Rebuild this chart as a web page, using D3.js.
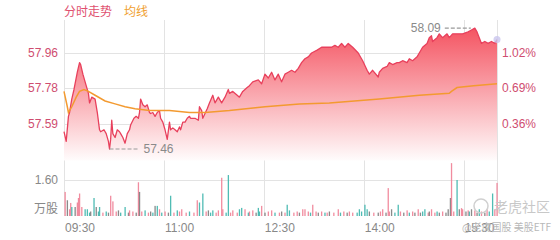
<!DOCTYPE html>
<html>
<head>
<meta charset="utf-8">
<script src="https://cdn.jsdelivr.net/npm/d3@7"></script>
<style>
  html, body { margin: 0; padding: 0; background: #fff; }
  svg { display: block; }
</style>
</head>
<body>
<div id="chart"></div>
<script>
// minutes since 09:30 and price
const priceMinutes = [0, 2, 4, 5, 7, 9, 12, 14, 15, 17, 19, 22, 23, 25, 28, 30, 32, 33, 36, 38, 40, 41, 42, 43, 44, 46, 48, 50, 51, 53, 55, 57, 59, 60, 63, 65, 67, 68, 69, 71, 73, 75, 77, 78, 80, 82, 84, 86, 87, 89, 91, 93, 95, 96, 98, 100, 102, 104, 105, 107, 109, 111, 113, 114, 116, 118, 121, 122, 124, 125, 129, 131, 134, 136, 139, 142, 145, 148, 149, 152, 156, 158, 161, 165, 167, 170, 175, 178, 181, 184, 187, 190, 193, 196, 199, 202, 205, 208, 211, 214, 217, 220, 223, 228, 232, 237, 241, 244, 247, 250, 253, 256, 260, 265, 269, 273, 275, 278, 283, 284, 287, 291, 293, 296, 300, 302, 305, 309, 311, 314, 318, 320, 323, 327, 329, 331, 332, 336, 338, 341, 345, 347, 350, 355, 359, 364, 367, 370, 372, 374, 376, 379, 382, 385, 388, 390];
const prices = [57.55, 57.50, 57.63, 57.65, 57.72, 57.77, 57.86, 57.91, 57.90, 57.85, 57.81, 57.75, 57.70, 57.73, 57.72, 57.65, 57.56, 57.55, 57.56, 57.54, 57.50, 57.46, 57.51, 57.61, 57.54, 57.52, 57.56, 57.55, 57.54, 57.52, 57.49, 57.54, 57.56, 57.585, 57.62, 57.63, 57.62, 57.65, 57.72, 57.69, 57.68, 57.69, 57.65, 57.645, 57.65, 57.63, 57.65, 57.66, 57.62, 57.60, 57.56, 57.51, 57.60, 57.56, 57.57, 57.56, 57.55, 57.575, 57.56, 57.60, 57.60, 57.62, 57.63, 57.62, 57.62, 57.62, 57.61, 57.68, 57.66, 57.62, 57.67, 57.70, 57.74, 57.70, 57.73, 57.70, 57.73, 57.77, 57.75, 57.76, 57.74, 57.73, 57.76, 57.78, 57.79, 57.81, 57.82, 57.80, 57.85, 57.83, 57.86, 57.82, 57.85, 57.81, 57.85, 57.86, 57.87, 57.86, 57.88, 57.91, 57.93, 57.94, 57.96, 57.975, 57.99, 57.99, 57.99, 58.00, 57.99, 58.01, 57.99, 58.01, 57.99, 57.96, 57.92, 57.87, 57.85, 57.87, 57.835, 57.86, 57.88, 57.89, 57.91, 57.90, 57.91, 57.91, 57.92, 57.91, 57.93, 57.92, 57.94, 57.96, 57.99, 58.01, 58.04, 58.05, 58.02, 58.04, 58.06, 58.04, 58.06, 58.04, 58.06, 58.06, 58.06, 58.07, 58.08, 58.09, 58.07, 58.04, 58.01, 58.02, 58.01, 58.02, 58.01, 58.03];

// average price line (均线)
const avgMinutes = [0, 3, 4, 7, 11, 14, 18, 22, 28, 37, 46, 55, 64, 77, 95, 113, 127, 149, 181, 212, 239, 284, 320, 347, 349, 354, 369, 390];
const avgPrices = [57.76, 57.68, 57.65, 57.68, 57.73, 57.76, 57.77, 57.76, 57.74, 57.71, 57.695, 57.68, 57.67, 57.66, 57.66, 57.65, 57.65, 57.66, 57.68, 57.695, 57.70, 57.72, 57.74, 57.75, 57.76, 57.78, 57.79, 57.80];

// volume bars (万股): minute, value, side u = up, d = down, n = flat
const volMinutes = [1, 3, 5, 6, 7, 10, 12, 13, 14, 16, 19, 21, 23, 24, 27, 29, 31, 32, 35, 38, 40, 42, 44, 47, 49, 51, 55, 58, 59, 62, 65, 67, 68, 70, 73, 76, 78, 80, 82, 84, 86, 88, 91, 94, 96, 99, 102, 104, 106, 110, 113, 117, 120, 122, 125, 128, 130, 132, 134, 137, 139, 142, 143, 146, 148, 150, 152, 156, 158, 160, 163, 166, 167, 170, 173, 175, 176, 178, 181, 184, 187, 190, 194, 196, 199, 201, 203, 207, 210, 212, 215, 217, 220, 222, 224, 227, 229, 232, 235, 237, 239, 243, 247, 249, 252, 255, 257, 260, 264, 266, 268, 271, 273, 275, 279, 283, 285, 287, 290, 292, 293, 295, 298, 301, 303, 306, 309, 311, 314, 316, 319, 321, 323, 325, 328, 329, 331, 334, 336, 338, 341, 344, 346, 348, 349, 351, 354, 356, 358, 359, 362, 364, 365, 367, 370, 372, 374, 376, 379, 381, 383, 386, 388, 390];
const volValues = [1.07, 0.70, 0.30, 0.58, 0.40, 0.40, 0.60, 0.80, 1.00, 0.40, 0.30, 0.30, 0.15, 0.20, 0.80, 0.40, 0.20, 0.40, 0.15, 0.20, 0.15, 0.90, 0.65, 0.20, 0.25, 0.15, 0.40, 0.15, 0.25, 0.20, 0.15, 1.50, 1.07, 0.20, 0.25, 0.15, 0.20, 0.15, 0.45, 0.45, 0.30, 0.15, 0.20, 0.15, 0.90, 0.15, 0.25, 0.20, 0.30, 0.15, 0.20, 0.15, 0.70, 0.60, 1.00, 0.20, 0.25, 0.15, 0.25, 0.15, 0.25, 1.70, 0.30, 0.15, 1.82, 0.15, 0.25, 0.15, 0.30, 0.36, 0.30, 0.15, 0.20, 0.25, 0.15, 0.36, 0.20, 0.45, 0.15, 0.20, 0.25, 0.15, 0.15, 0.20, 0.15, 0.50, 0.25, 0.15, 0.20, 0.15, 0.30, 0.30, 0.20, 0.15, 0.50, 0.20, 0.15, 0.20, 0.15, 0.15, 0.20, 0.15, 0.30, 0.15, 0.20, 0.15, 0.20, 0.15, 0.15, 0.30, 0.20, 0.50, 0.30, 0.20, 0.15, 0.15, 0.20, 0.30, 0.15, 1.24, 0.20, 0.30, 0.15, 0.50, 0.20, 0.15, 0.25, 0.15, 0.20, 0.15, 0.30, 0.15, 0.20, 0.30, 0.15, 0.20, 0.30, 0.15, 0.20, 0.15, 0.20, 0.15, 0.30, 0.80, 2.35, 0.20, 1.60, 0.30, 0.35, 0.30, 0.20, 0.25, 0.20, 0.30, 0.25, 0.15, 0.30, 0.20, 0.15, 0.30, 0.20, 1.00, 0.30, 1.47];
const volSides = ["u", "n", "u", "u", "d", "n", "u", "u", "u", "u", "d", "d", "d", "n", "d", "n", "d", "d", "u", "d", "n", "u", "u", "u", "n", "d", "d", "n", "u", "u", "n", "u", "n", "u", "d", "u", "n", "d", "n", "d", "u", "d", "u", "n", "d", "u", "d", "u", "u", "u", "d", "u", "u", "d", "d", "u", "n", "d", "d", "u", "u", "u", "u", "d", "d", "u", "u", "u", "d", "d", "u", "d", "u", "u", "n", "d", "d", "u", "n", "u", "u", "d", "u", "n", "u", "d", "d", "u", "u", "n", "u", "u", "u", "d", "u", "u", "n", "u", "d", "u", "n", "u", "u", "d", "u", "n", "u", "u", "d", "d", "d", "d", "d", "n", "u", "n", "u", "u", "n", "u", "u", "n", "d", "d", "u", "n", "u", "d", "u", "n", "u", "n", "d", "d", "u", "n", "u", "u", "d", "n", "u", "n", "n", "n", "u", "u", "d", "n", "u", "u", "n", "u", "d", "n", "u", "n", "d", "u", "n", "u", "d", "d", "u", "u"];

// axis labels
const timeTicks = [0, 90, 180, 270, 360, 390];
const timeLabels = ["09:30", "11:00", "12:30", "14:00", "15:30"];
const priceTicks = [57.96, 57.78, 57.59];
const pctLabels = ["1.02%", "0.69%", "0.36%"];
const volTicks = [1.6];
const highLabel = "58.09";
const lowLabel = "57.46";

const width = 560, height = 240;
const plotLeft = 64, plotRight = 497, plotTop = 20, plotBottom = 216;

const svg = d3.select("#chart").append("svg")
  .attr("width", width).attr("height", height)
  .style("font-family", "'Liberation Sans', Arial, sans-serif");

const x = d3.scaleLinear().domain([0, 390]).range([plotLeft, plotRight]);
const y = d3.scaleLinear().domain([57.40, 58.13]).range([160.5, 20.4]);
const yv = d3.scaleLinear().domain([0, 1.6]).range([plotBottom, 180]);

// gradient for price area
const grad = svg.append("defs").append("linearGradient")
  .attr("id", "fillGrad")
  .attr("gradientUnits", "userSpaceOnUse")
  .attr("x1", 0).attr("x2", 0).attr("y1", 25).attr("y2", 163);
grad.append("stop").attr("offset", 0).attr("stop-color", "#f4505e");
grad.append("stop").attr("offset", 1).attr("stop-color", "#ffffff");

// grid
const grid = svg.append("g").attr("stroke", "#e3e3e3").attr("stroke-width", 1);
grid.selectAll("line.v").data(timeTicks).join("line")
  .attr("x1", (d) => Math.round(x(d)) + 0.5).attr("x2", (d) => Math.round(x(d)) + 0.5)
  .attr("y1", plotTop).attr("y2", plotBottom);
grid.selectAll("line.h").data(priceTicks).join("line")
  .attr("x1", plotLeft).attr("x2", plotRight)
  .attr("y1", (d) => Math.round(y(d)) + 0.5).attr("y2", (d) => Math.round(y(d)) + 0.5);
grid.selectAll("line.hv").data(volTicks).join("line")
  .attr("x1", plotLeft).attr("x2", plotRight)
  .attr("y1", (d) => Math.round(yv(d)) + 0.5).attr("y2", (d) => Math.round(yv(d)) + 0.5);

const pts = priceMinutes.map((m, i) => [m, prices[i]]);

// price area + line
svg.append("path")
  .datum(pts)
  .attr("fill", "url(#fillGrad)")
  .attr("d", d3.area().x((d) => x(d[0])).y0(y(57.40)).y1((d) => y(d[1])));

svg.append("path")
  .datum(pts)
  .attr("fill", "none")
  .attr("stroke", "#e8405c")
  .attr("stroke-width", 1.3)
  .attr("stroke-linejoin", "round")
  .attr("d", d3.line().x((d) => x(d[0])).y((d) => y(d[1])));

// average line
svg.append("path")
  .datum(avgMinutes.map((m, i) => [m, avgPrices[i]]))
  .attr("fill", "none")
  .attr("stroke", "#f39a30")
  .attr("stroke-width", 1.5)
  .attr("d", d3.line().x((d) => x(d[0])).y((d) => y(d[1])));

// last point dot
svg.append("circle")
  .attr("cx", x(priceMinutes[priceMinutes.length - 1]))
  .attr("cy", y(prices[prices.length - 1]))
  .attr("r", 3.5)
  .attr("fill", "#c9c6ee").attr("opacity", 0.8);

// high / low markers
const hiIdx = d3.maxIndex(prices), loIdx = d3.minIndex(prices);
const hiX = x(priceMinutes[hiIdx]), hiY = y(prices[hiIdx]);
const loX = x(priceMinutes[loIdx]), loY = y(prices[loIdx]);
svg.append("line")
  .attr("x1", hiX - 30).attr("x2", hiX - 4).attr("y1", hiY).attr("y2", hiY)
  .attr("stroke", "#999").attr("stroke-dasharray", "4,2").attr("stroke-width", 1.2);
svg.append("text").attr("x", hiX - 34).attr("y", hiY).attr("dy", "0.35em")
  .attr("text-anchor", "end").attr("font-size", 12).attr("fill", "#8a8a8a").text(highLabel);
svg.append("line")
  .attr("x1", loX).attr("x2", loX + 29).attr("y1", loY).attr("y2", loY)
  .attr("stroke", "#999").attr("stroke-dasharray", "4,2").attr("stroke-width", 1.2);
svg.append("text").attr("x", loX + 34).attr("y", loY).attr("dy", "0.35em")
  .attr("font-size", 12).attr("fill", "#8a8a8a").text(lowLabel);

// volume bars
const sideColor = { u: "#ef7f95", d: "#3db5ac", n: "#7d7d7d" };
svg.append("g").selectAll("rect").data(volMinutes).join("rect")
  .attr("x", (d) => x(d) - 0.6)
  .attr("width", 1.3)
  .attr("y", (d, i) => yv(volValues[i]))
  .attr("height", (d, i) => plotBottom - yv(volValues[i]))
  .attr("fill", (d, i) => sideColor[volSides[i]])
  .attr("opacity", 0.9);

// left price labels
const leftAxis = svg.append("g").attr("transform", `translate(${plotLeft},0)`)
  .call(d3.axisLeft(y).tickValues(priceTicks).tickSize(0).tickPadding(6).tickFormat(d3.format(".2f")));
leftAxis.select(".domain").remove();
leftAxis.selectAll("text").attr("fill", "#cf4d70").attr("font-size", 12).attr("font-family", null);

// right percent labels
const rightAxis = svg.append("g").attr("transform", `translate(${plotRight},0)`)
  .call(d3.axisRight(y).tickValues(priceTicks).tickSize(0).tickPadding(5).tickFormat((d, i) => pctLabels[i]));
rightAxis.select(".domain").remove();
rightAxis.selectAll("text").attr("fill", "#cf4d70").attr("font-size", 12).attr("font-family", null);

// volume labels
const volAxis = svg.append("g").attr("transform", `translate(${plotLeft},0)`)
  .call(d3.axisLeft(yv).tickValues(volTicks).tickSize(0).tickPadding(6).tickFormat(d3.format(".2f")));
volAxis.select(".domain").remove();
volAxis.selectAll("text").attr("fill", "#888").attr("font-size", 12).attr("font-family", null);
svg.append("text").attr("x", plotLeft - 6).attr("y", 209).attr("dy", "0.35em")
  .attr("text-anchor", "end").attr("font-size", 12).attr("fill", "#888")
  .style("font-family", "'Noto Sans CJK SC', sans-serif").text("万股");

// time labels, left aligned on grid lines
svg.append("g").selectAll("text").data(timeLabels).join("text")
  .attr("x", (d, i) => x(timeTicks[i]) + 1)
  .attr("y", 232)
  .attr("font-size", 12).attr("fill", "#888")
  .text((d) => d);

// legend
svg.append("text").attr("x", 64).attr("y", 16).attr("font-size", 12).attr("fill", "#e0506f")
  .style("font-family", "'Noto Sans CJK SC', sans-serif").text("分时走势");
svg.append("text").attr("x", 124).attr("y", 16).attr("font-size", 12).attr("fill", "#f0a030")
  .style("font-family", "'Noto Sans CJK SC', sans-serif").text("均线");

// watermark
const wm = svg.append("g").attr("fill", "#c8c8c8").style("font-family", "'Noto Sans CJK SC', sans-serif");
wm.append("circle").attr("cx", 481).attr("cy", 206).attr("r", 7)
  .attr("fill", "none").attr("stroke", "#d0d0d0").attr("stroke-width", 1.5);
wm.append("text").attr("x", 494).attr("y", 212).attr("font-size", 14).text("老虎社区");
wm.append("text").attr("x", 462).attr("y", 231).attr("font-size", 10).attr("fill", "#b8b8b8").text("@老虎国股 美股ETF");
</script>
</body>
</html>
